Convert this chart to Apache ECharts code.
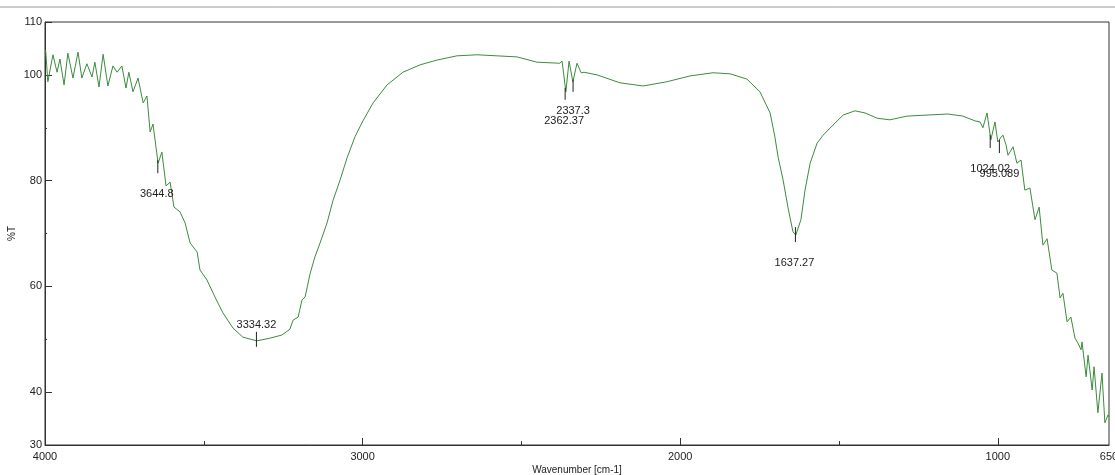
<!DOCTYPE html>
<html>
<head>
<meta charset="utf-8">
<title>FTIR spectrum</title>
<script src="https://cdn.jsdelivr.net/npm/echarts@6/dist/echarts.min.js"></script>
<style>
  html, body { margin: 0; padding: 0; background: #fff; }
  #chart { width: 1115px; height: 475px; }
</style>
</head>
<body>
<div id="chart"></div>
<script>
// spectrum: wavenumber (cm-1) and %T
var wavenumber = [
  3998, 3991, 3975, 3962, 3953, 3940, 3928, 3912, 3896, 3884,
  3868, 3852, 3843, 3830, 3817, 3802, 3786, 3773, 3758, 3745,
  3736, 3723, 3707, 3691, 3679, 3669, 3660, 3644, 3632, 3619,
  3606, 3594, 3575, 3559, 3543, 3521, 3512, 3490, 3465, 3440,
  3408, 3377, 3333, 3292, 3254, 3229, 3219, 3203, 3191, 3181,
  3165, 3150, 3134, 3112, 3093, 3071, 3049, 3024, 2999, 2967,
  2923, 2873, 2819, 2766, 2703, 2640, 2577, 2514, 2451, 2379,
  2372, 2360, 2350, 2338, 2325, 2312, 2303, 2262, 2190, 2117,
  2042, 1969, 1897, 1843, 1790, 1749, 1717, 1702, 1692, 1676,
  1661, 1645, 1636, 1620, 1607, 1591, 1569, 1550, 1519, 1487,
  1450, 1418, 1380, 1340, 1286, 1223, 1157, 1110, 1072, 1056,
  1047, 1034, 1022, 1009, 1000, 990, 984, 974, 968, 952,
  940, 927, 915, 899, 883, 870, 858, 845, 830, 814,
  804, 795, 782, 770, 757, 748, 738, 735, 722, 716,
  703, 697, 685, 672, 663, 653, 650
];
var transmittance = [
  104.7, 98.7, 103.8, 100.5, 103.0, 98.1, 104.1, 99.4, 104.3, 99.4,
  102.1, 99.6, 102.4, 97.7, 103.9, 97.9, 101.7, 100.5, 101.7, 97.5,
  100.5, 96.8, 99.4, 94.7, 96.0, 89.2, 90.7, 83.3, 85.4, 79.0,
  79.7, 75.0, 74.1, 72.0, 68.2, 66.5, 63.1, 61.2, 58.0, 55.0,
  52.1, 50.4, 49.7, 50.2, 50.8, 51.9, 53.6, 54.2, 57.4, 58.0,
  62.5, 65.6, 68.2, 72.0, 76.3, 80.1, 84.3, 88.3, 91.3, 94.7,
  98.1, 100.5, 101.9, 102.8, 103.6, 103.8, 103.6, 103.4, 102.4, 102.2,
  102.6, 96.8, 102.6, 98.7, 102.2, 100.4, 100.5, 100.0, 98.5, 97.9,
  98.7, 99.8, 100.4, 100.2, 99.2, 96.8, 92.8, 88.3, 84.5, 80.1,
  75.0, 70.3, 69.7, 72.6, 78.2, 83.3, 87.1, 88.6, 90.5, 92.4,
  93.2, 92.8, 91.8, 91.5, 92.2, 92.4, 92.6, 92.2, 91.3, 91.1,
  90.0, 92.8, 87.7, 91.1, 87.3, 88.2, 88.6, 86.7, 84.8, 86.4,
  83.3, 83.9, 78.2, 78.6, 72.6, 75.0, 67.8, 69.0, 63.1, 62.5,
  57.8, 58.7, 53.3, 54.2, 50.2, 49.3, 48.0, 49.5, 42.9, 47.0,
  40.4, 44.8, 36.1, 43.6, 34.2, 35.7, 35.3
];

// picked peaks
var peakLabels = ['3644.8', '3334.32', '2362.37', '2337.3', '1637.27', '1024.02', '995.089'];
var peakWn = [3644.8, 3334.32, 2362.37, 2337.3, 1637.27, 1024.02, 995.089];
var peakT = [83.3, 49.7, 96.8, 98.7, 69.7, 87.7, 87.3];

// tick labels
var xTickLabels = [4000, 3000, 2000, 1000, 650];
var xMajorTicks = [3000, 2000, 1000];
var xMinorTicks = [3500, 2500, 1500];
var yTickLabels = [30, 40, 60, 80, 100, 110];
var yMajorTicks = [40, 60, 80, 100, 110];
var yMinorTicks = [50, 70, 90];

// where each peak's mark and label sit around the point (px)
var peakStyle = [
  { top: -3, bottom: 10, dx: -1, dy: 31 },
  { top: -9, bottom: 6, dx: 0, dy: -16 },
  { top: -4, bottom: 8, dx: -1, dy: 29 },
  { top: -2, bottom: 10, dx: 0, dy: 29 },
  { top: -8, bottom: 7, dx: -1, dy: 28 },
  { top: -5, bottom: 8, dx: 0, dy: 29 },
  { top: -2, bottom: 11, dx: 0, dy: 32 }
];

var spectrum = wavenumber.map(function (w, i) { return [w, transmittance[i]]; });
var peaks = peakWn.map(function (w, i) { return [w, peakT[i], i]; });

var axisColor = '#333';
var textFont = 'Arial, "Liberation Sans", sans-serif';
var plain = function (v) { return String(v); };

var chart = echarts.init(document.getElementById('chart'), null, { renderer: 'canvas' });

var option = {
  backgroundColor: '#fff',
  animation: false,
  grid: {
    left: 45, right: 6, top: 22, bottom: 30,
    outerBoundsMode: 'none',
    containLabel: false,
    show: true, borderColor: axisColor, borderWidth: 1, backgroundColor: 'transparent'
  },
  graphic: [{
    type: 'line',
    shape: { x1: 0, y1: 7, x2: 1115, y2: 7 },
    style: { stroke: '#999', lineWidth: 1 }
  }],
  xAxis: [{
    type: 'value',
    inverse: true,
    min: 650, max: 4000,
    name: 'Wavenumber [cm-1]',
    nameLocation: 'middle',
    nameGap: 20,
    nameMoveOverlap: false,
    nameTextStyle: { fontSize: 10, color: '#222', fontFamily: textFont },
    axisLine: { show: true, lineStyle: { color: axisColor } },
    axisTick: { show: true, inside: true, length: 7, customValues: xMajorTicks, lineStyle: { color: axisColor } },
    axisLabel: { customValues: xTickLabels, formatter: plain, fontSize: 11, color: '#222', margin: 6, fontFamily: textFont },
    splitLine: { show: false }
  }, {
    type: 'value',
    inverse: true,
    min: 650, max: 4000,
    position: 'bottom',
    axisLine: { show: false },
    axisTick: { show: true, inside: true, length: 4, customValues: xMinorTicks, lineStyle: { color: axisColor } },
    axisLabel: { show: false },
    splitLine: { show: false }
  }],
  yAxis: [{
    type: 'value',
    min: 30, max: 110,
    name: '%T',
    nameLocation: 'middle',
    nameGap: 28,
    nameMoveOverlap: false,
    nameTextStyle: { fontSize: 10, color: '#222', fontFamily: textFont },
    axisLine: { show: true, lineStyle: { color: axisColor } },
    axisTick: { show: true, inside: true, length: 7, customValues: yMajorTicks, lineStyle: { color: axisColor } },
    axisLabel: { customValues: yTickLabels, formatter: plain, fontSize: 11, color: '#222', margin: 3, fontFamily: textFont },
    splitLine: { show: false }
  }, {
    type: 'value',
    min: 30, max: 110,
    position: 'left',
    axisLine: { show: false },
    axisTick: { show: true, inside: true, length: 2, customValues: yMinorTicks, lineStyle: { color: axisColor } },
    axisLabel: { show: false },
    splitLine: { show: false }
  }],
  series: [{
    type: 'line',
    data: spectrum,
    symbol: 'none',
    smooth: false,
    lineStyle: { color: '#3c8c3c', width: 1 }
  }, {
    type: 'custom',
    data: peaks,
    renderItem: function (params, api) {
      var p = api.coord([api.value(0), api.value(1)]);
      var s = peakStyle[api.value(2)];
      return {
        type: 'group',
        children: [{
          type: 'line',
          shape: { x1: p[0], y1: p[1] + s.top, x2: p[0], y2: p[1] + s.bottom },
          style: { stroke: '#222', lineWidth: 1 }
        }, {
          type: 'text',
          style: {
            x: p[0] + s.dx, y: p[1] + s.dy,
            text: peakLabels[api.value(2)],
            fill: '#222',
            font: '11px ' + textFont,
            align: 'center',
            verticalAlign: 'middle'
          }
        }]
      };
    },
    z: 5
  }]
};

chart.setOption(option);
</script>
</body>
</html>
